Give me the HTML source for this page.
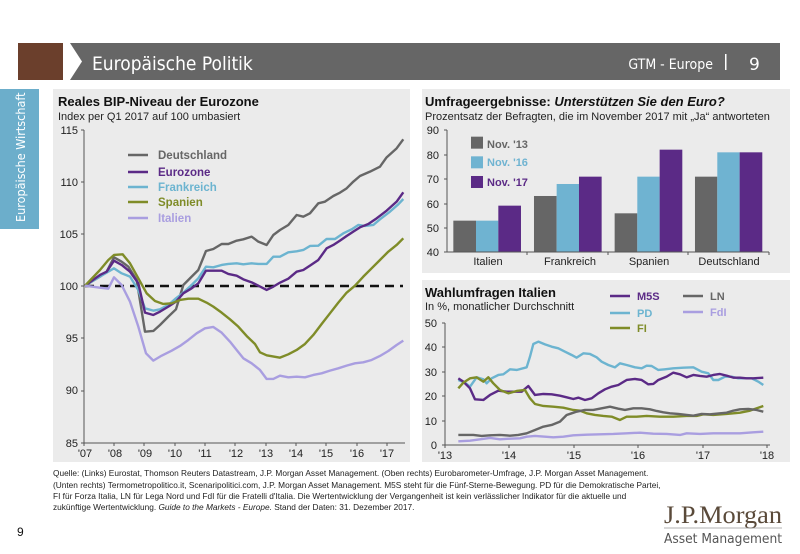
<!DOCTYPE html>
<html><head><meta charset="utf-8"><style>
body{margin:0;width:800px;height:554px;background:#fff;overflow:hidden;font-family:"Liberation Sans",sans-serif}
svg{display:block}
text{font-family:"Liberation Sans",sans-serif}
.l{fill:none;stroke-width:2.4;vector-effect:non-scaling-stroke;stroke-linejoin:round}
.ax{stroke:#555;stroke-width:1;fill:none}
.t{font-size:11px;fill:#222}
</style></head><body>
<svg width="800" height="554" viewBox="0 0 800 554">
<!-- header -->
<rect x="18" y="43" width="50" height="37" fill="#6b3f2c"/>
<rect x="63" y="43" width="717" height="37" fill="#666"/>
<polygon points="63,43 70,43 82,61.5 70,80 63,80" fill="#fff"/>
<text x="92" y="70" font-size="19" fill="#fff" font-family="DejaVu Sans" style="font-family:'DejaVu Sans Condensed','DejaVu Sans',sans-serif">Europäische Politik</text>
<text x="713" y="69" font-size="14" fill="#fff" text-anchor="end" style="font-family:'DejaVu Sans Condensed','DejaVu Sans',sans-serif">GTM - Europe</text>
<rect x="725" y="54" width="1.5" height="16" fill="#fff"/>
<text x="749" y="70" font-size="17" fill="#fff" style="font-family:'DejaVu Sans',sans-serif">9</text>
<!-- side tab -->
<rect x="0" y="89" width="39" height="140" fill="#6caecb"/>
<text transform="translate(25,222) rotate(-90)" font-size="12.5" fill="#fff" style="font-family:'DejaVu Sans Condensed','DejaVu Sans',sans-serif">Europäische Wirtschaft</text>

<!-- panels -->
<rect x="53" y="89" width="357" height="373" fill="#ebebeb"/>
<rect x="422" y="89" width="368" height="184" fill="#ebebeb"/>
<rect x="422" y="280" width="368" height="182" fill="#ebebeb"/>

<!-- LEFT CHART -->
<text x="58" y="106" font-size="13" font-weight="bold" fill="#111">Reales BIP-Niveau der Eurozone</text>
<text x="58" y="120" font-size="11" fill="#222">Index per Q1 2017 auf 100 umbasiert</text>
<g class="t" text-anchor="end">
<text x="78" y="134">115</text><text x="78" y="186">110</text><text x="78" y="238">105</text>
<text x="78" y="290">100</text><text x="78" y="342">95</text><text x="78" y="394">90</text><text x="78" y="447">85</text>
</g>
<path class="ax" d="M84,130V443H405M81,130H84M81,182H84M81,234H84M81,286H84M81,338H84M81,391H84M81,443H84"/>
<g class="ax">
<path d="M84,443v3M114,443v3M144,443v3M175,443v3M205,443v3M235,443v3M266,443v3M296,443v3M326,443v3M357,443v3M387,443v3"/>
</g>
<g class="t" text-anchor="middle">
<text x="85" y="457">'07</text><text x="115" y="457">'08</text><text x="145" y="457">'09</text><text x="175" y="457">'10</text><text x="205" y="457">'11</text><text x="236" y="457">'12</text><text x="266" y="457">'13</text><text x="296" y="457">'14</text><text x="326" y="457">'15</text><text x="357" y="457">'16</text><text x="387" y="457">'17</text>
</g>
<line x1="85" y1="286" x2="403" y2="286" stroke="#111" stroke-width="2.5" stroke-dasharray="9,6"/>
<g transform="translate(40,120) scale(0.3333)">
<polyline class="l" stroke="#666" points="135,497 180,470 200,455 222,412 245,425 265,440 290,480 315,635 340,633 360,615 385,590 408,568 430,495 455,470 475,450 498,393 520,387 545,372 565,372 590,362 610,358 635,350 655,365 680,375 700,345 720,330 745,315 770,285 790,290 810,280 835,250 855,245 880,228 900,218 920,205 940,185 960,168 990,155 1020,140 1040,112 1070,85 1090,58"/>
<polyline class="l" stroke="#6cb4d0" points="135,497 180,470 200,458 222,445 245,460 270,470 295,510 315,565 340,572 360,568 385,555 408,535 430,518 455,495 475,475 498,440 520,442 545,435 565,432 590,430 610,433 635,430 655,432 680,432 700,410 720,410 745,397 770,394 790,390 810,378 835,377 860,357 885,357 910,340 935,328 955,315 975,318 1000,315 1020,298 1050,275 1075,253 1090,237"/>
<polyline class="l" stroke="#5b2a86" points="135,497 180,465 200,455 222,422 245,435 270,455 295,490 315,578 340,585 360,575 385,560 408,545 430,520 455,505 475,490 498,452 520,452 545,452 565,462 590,467 610,478 635,487 655,497 680,510 700,500 720,488 745,476 770,455 790,450 810,437 835,420 860,385 880,375 900,362 920,348 940,335 960,322 985,312 1010,295 1040,272 1070,245 1090,217"/>
<polyline class="l" stroke="#7f8c28" points="135,497 180,450 205,420 222,405 248,403 270,430 295,475 320,520 345,543 370,552 395,550 420,540 445,536 475,536 500,548 520,560 545,578 570,598 595,620 620,648 645,672 660,697 680,706 720,713 745,703 770,690 795,672 820,645 845,612 870,580 895,548 920,518 945,497 970,470 995,445 1020,420 1045,395 1070,375 1090,355"/>
<polyline class="l" stroke="#a99ee0" points="135,497 180,503 205,506 222,472 245,495 270,545 295,620 318,700 340,722 365,707 395,692 420,678 445,660 470,640 495,625 520,621 545,638 570,665 590,690 610,715 635,730 660,750 680,777 700,777 720,767 745,772 770,770 795,772 820,765 845,760 870,752 895,745 920,737 945,730 970,727 995,720 1020,708 1045,693 1070,675 1090,662"/>
</g>
<g font-size="11.5" font-weight="bold">
<line x1="128" y1="155" x2="148" y2="155" stroke="#666" stroke-width="2.5"/><text x="158" y="159" fill="#666">Deutschland</text>
<line x1="128" y1="172" x2="148" y2="172" stroke="#5b2a86" stroke-width="2.5"/><text x="158" y="176" fill="#5b2a86">Eurozone</text>
<line x1="128" y1="187" x2="148" y2="187" stroke="#6cb4d0" stroke-width="2.5"/><text x="158" y="191" fill="#6cb4d0">Frankreich</text>
<line x1="128" y1="202" x2="148" y2="202" stroke="#7f8c28" stroke-width="2.5"/><text x="158" y="206" fill="#7f8c28">Spanien</text>
<line x1="128" y1="218" x2="148" y2="218" stroke="#a99ee0" stroke-width="2.5"/><text x="158" y="222" fill="#a99ee0">Italien</text>
</g>

<!-- TOP RIGHT BAR CHART -->
<text x="425" y="106" font-size="13" font-weight="bold" fill="#111">Umfrageergebnisse: <tspan font-style="italic">Unterstützen Sie den Euro?</tspan></text>
<text x="425" y="120" font-size="11" fill="#222">Prozentsatz der Befragten, die im November 2017 mit „Ja“ antworteten</text>
<g transform="translate(410,85) scale(0.3333)">
<rect x="130" y="407" width="68" height="95" fill="#666"/><rect x="198" y="407" width="67" height="95" fill="#6fb3d1"/><rect x="265" y="362" width="68" height="140" fill="#5b2a86"/>
<rect x="372" y="333" width="68" height="169" fill="#666"/><rect x="440" y="297" width="67" height="205" fill="#6fb3d1"/><rect x="507" y="275" width="68" height="227" fill="#5b2a86"/>
<rect x="614" y="385" width="68" height="117" fill="#666"/><rect x="682" y="275" width="67" height="227" fill="#6fb3d1"/><rect x="749" y="194" width="68" height="308" fill="#5b2a86"/>
<rect x="855" y="275" width="67" height="227" fill="#666"/><rect x="922" y="202" width="67" height="300" fill="#6fb3d1"/><rect x="989" y="202" width="68" height="300" fill="#5b2a86"/>
<rect x="183" y="155" width="36" height="36" fill="#666"/><rect x="183" y="214" width="36" height="36" fill="#6fb3d1"/><rect x="183" y="273" width="36" height="36" fill="#5b2a86"/>
</g>
<path class="ax" d="M447,130V252H769M444,130H447M444,155H447M444,179H447M444,204H447M444,228H447M444,252H447M527,252v3M608,252v3M688,252v3M769,252v3"/>
<g class="t" text-anchor="end">
<text x="439" y="134">90</text><text x="439" y="159">80</text><text x="439" y="183">70</text><text x="439" y="208">60</text><text x="439" y="232">50</text><text x="439" y="256">40</text>
</g>
<g class="t" text-anchor="middle">
<text x="488" y="265">Italien</text><text x="570" y="265">Frankreich</text><text x="649" y="265">Spanien</text><text x="729" y="265">Deutschland</text>
</g>
<g font-size="11" font-weight="bold">
<text x="487" y="148" fill="#666">Nov. '13</text><text x="487" y="166" fill="#6fb3d1">Nov. '16</text><text x="487" y="186" fill="#5b2a86">Nov. '17</text>
</g>

<!-- BOTTOM RIGHT LINE CHART -->
<text x="425" y="297" font-size="13" font-weight="bold" fill="#111">Wahlumfragen Italien</text>
<text x="425" y="310" font-size="11" fill="#222">In %, monatlicher Durchschnitt</text>
<g class="t" text-anchor="end">
<text x="437" y="327">50</text><text x="437" y="351">40</text><text x="437" y="376">30</text><text x="437" y="400">20</text><text x="437" y="425">10</text><text x="437" y="449">0</text>
</g>
<path class="ax" d="M445,323V445H770M442,323H445M442,347H445M442,372H445M442,396H445M442,421H445M442,445H445M445,445v3M509,445v3M574,445v3M638,445v3M703,445v3M767,445v3"/>
<g class="t" text-anchor="middle">
<text x="445" y="459">'13</text><text x="509" y="459">'14</text><text x="574" y="459">'15</text><text x="638" y="459">'16</text><text x="703" y="459">'17</text><text x="767" y="459">'18</text>
</g>
<g transform="translate(420,280) scale(0.3333)">
<polyline class="l" stroke="#6cb4d0" points="115,300 135,308 150,320 170,292 190,298 200,310 215,295 235,285 250,283 270,268 290,270 320,262 330,230 340,192 355,185 375,193 395,200 415,205 435,215 455,225 470,233 490,220 510,222 530,232 545,245 565,255 585,262 600,250 620,255 645,262 665,265 680,257 695,258 715,270 735,268 760,265 790,263 820,262 845,275 865,280 880,300 895,300 915,290 935,290 955,295 975,295 995,295 1015,305 1030,315"/>
<polyline class="l" stroke="#5b2a86" points="115,295 130,305 150,325 165,358 190,360 210,345 235,332 260,335 285,335 305,335 325,318 345,345 370,342 395,343 420,347 440,352 460,357 475,353 495,360 515,355 535,340 555,328 575,320 595,315 620,300 645,297 665,300 685,313 700,312 715,300 740,290 760,278 780,283 800,292 820,285 840,288 860,290 880,285 900,282 920,287 940,293 960,293 980,295 1000,295 1030,293"/>
<polyline class="l" stroke="#7f8c28" points="115,325 130,308 150,295 170,292 190,305 205,292 220,310 240,330 265,340 290,333 315,330 330,355 345,372 370,378 400,380 430,383 460,390 480,392 500,400 525,405 550,408 575,410 600,420 620,410 650,410 680,408 720,410 760,410 800,408 830,408 850,403 880,405 920,402 960,398 990,392 1030,378"/>
<polyline class="l" stroke="#666" points="115,465 160,465 185,468 210,466 240,465 270,467 295,465 320,460 345,450 370,440 395,435 420,425 440,405 455,400 470,395 495,390 520,390 545,385 570,380 595,386 615,390 640,385 665,385 690,388 710,393 730,397 750,400 775,402 800,405 820,407 845,402 870,403 900,400 920,398 940,392 960,388 985,387 1010,390 1030,395"/>
<polyline class="l" stroke="#a99ee0" points="115,484 150,482 180,478 210,474 240,478 270,476 300,475 320,470 345,468 375,470 400,472 430,470 460,466 500,464 540,463 580,462 620,460 660,458 700,461 740,462 780,465 800,460 840,462 880,460 920,460 960,460 1000,457 1030,455"/>
</g>
<g font-size="11" font-weight="bold">
<line x1="610" y1="296" x2="630" y2="296" stroke="#5b2a86" stroke-width="2.5"/><text x="637" y="300" fill="#5b2a86">M5S</text>
<line x1="610" y1="313" x2="630" y2="313" stroke="#6cb4d0" stroke-width="2.5"/><text x="637" y="317" fill="#6cb4d0">PD</text>
<line x1="610" y1="328" x2="630" y2="328" stroke="#7f8c28" stroke-width="2.5"/><text x="637" y="332" fill="#7f8c28">FI</text>
<line x1="683" y1="296" x2="703" y2="296" stroke="#666" stroke-width="2.5"/><text x="710" y="300" fill="#666">LN</text>
<line x1="683" y1="312" x2="703" y2="312" stroke="#a99ee0" stroke-width="2.5"/><text x="710" y="316" fill="#a99ee0">FdI</text>
</g>

<!-- footer -->
<g font-size="8.3" fill="#222">
<text x="53" y="476">Quelle: (Links) Eurostat, Thomson Reuters Datastream, J.P. Morgan Asset Management. (Oben rechts) Eurobarometer-Umfrage, J.P. Morgan Asset Management.</text>
<text x="53" y="488">(Unten rechts) Termometropolitico.it, Scenaripolitici.com, J.P. Morgan Asset Management. M5S steht für die Fünf-Sterne-Bewegung. PD für die Demokratische Partei,</text>
<text x="53" y="499">FI für Forza Italia, LN für Lega Nord und FdI für die Fratelli d'Italia. Die Wertentwicklung der Vergangenheit ist kein verlässlicher Indikator für die aktuelle und</text>
<text x="53" y="510">zukünftige Wertentwicklung. <tspan font-style="italic">Guide to the Markets - Europe.</tspan> Stand der Daten: 31. Dezember 2017.</text>
</g>
<text x="17" y="536" font-size="12" fill="#111">9</text>
<text x="782" y="523" font-size="25" fill="#5a4a3a" text-anchor="end" font-family="Liberation Serif" style="font-family:'Liberation Serif',serif" textLength="118" lengthAdjust="spacingAndGlyphs">J.P.Morgan</text>
<line x1="664" y1="528" x2="782" y2="528" stroke="#999" stroke-width="0.8"/>
<text x="782" y="543" font-size="13" fill="#555" text-anchor="end" textLength="118" lengthAdjust="spacingAndGlyphs" style="font-family:'DejaVu Sans Condensed','DejaVu Sans',sans-serif">Asset Management</text>
</svg>
</body></html>
